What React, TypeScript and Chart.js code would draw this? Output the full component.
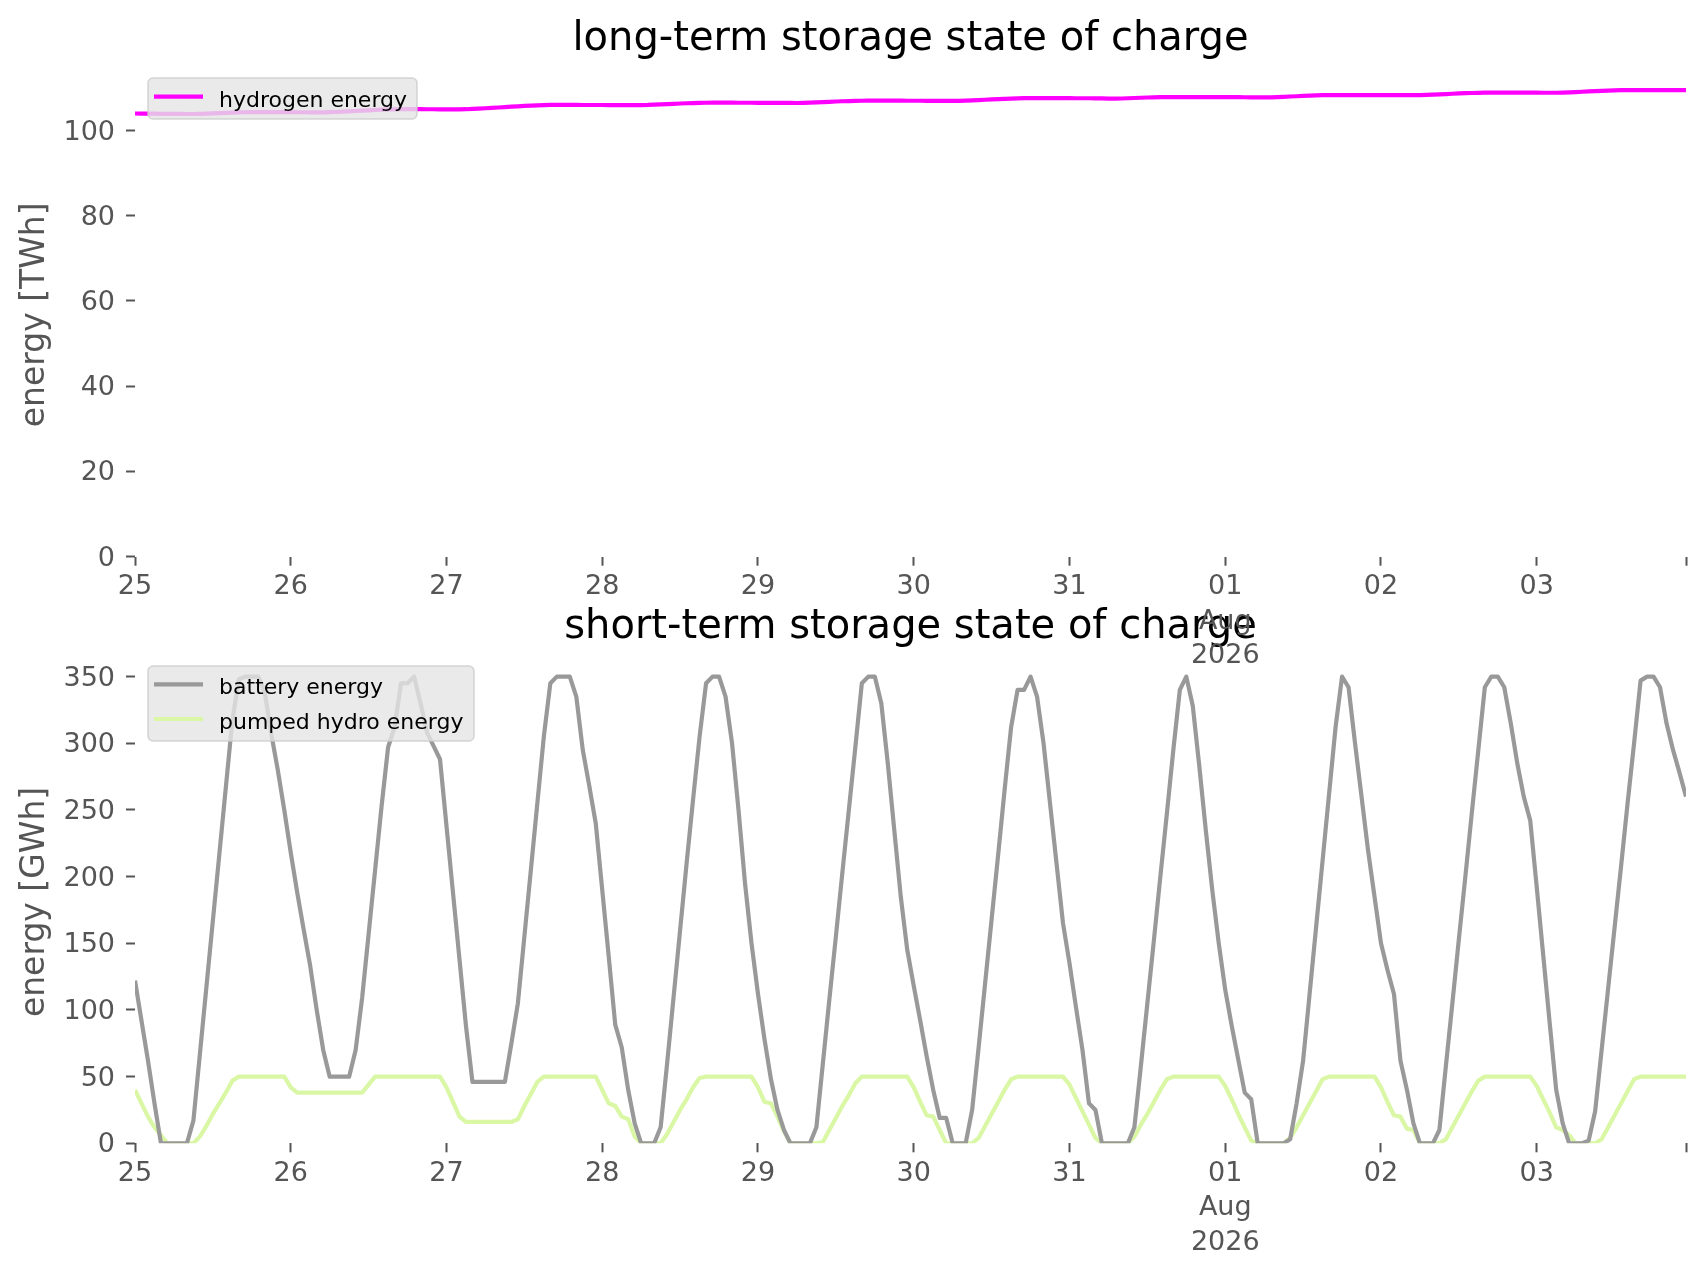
import { useEffect, useRef } from "react";
import { Chart, registerables } from "chart.js";
import type { ChartConfiguration, Plugin } from "chart.js";

Chart.register(...registerables);

// hourly snapshots, 25 Jul 2026 00:00 .. 03 Aug 2026 23:00
const HOURS = Array.from({ length: 240 }, (_, i) => i);

const DAY_TICKS = [0, 24, 48, 72, 96, 120, 144, 168, 192, 216, 239];
const DAY_LABELS: (string | string[])[] = ["25", "26", "27", "28", "29", "30", "31", ["01", "Aug", "2026"], "02", "03", ""];

const TWH_TICKS = [0, 20, 40, 60, 80, 100];
const GWH_TICKS = [0, 50, 100, 150, 200, 250, 300, 350];

// TWh
const HYDROGEN = [
  104.0, 103.99, 103.97, 103.95, 103.93, 103.91, 103.9, 103.89, 103.88, 103.88, 103.9, 103.95, 104.01, 104.08, 104.14, 104.2, 104.25, 104.29, 104.31, 104.31, 104.31, 104.3, 104.3, 104.3,
  104.3, 104.29, 104.29, 104.28, 104.28, 104.28, 104.3, 104.35, 104.42, 104.5, 104.58, 104.66, 104.74, 104.82, 104.89, 104.94, 104.98, 105.0, 105.0, 105.0, 105.0, 104.99, 104.99, 104.98,
  104.98, 104.98, 104.98, 105.0, 105.06, 105.14, 105.23, 105.32, 105.41, 105.5, 105.59, 105.68, 105.77, 105.85, 105.92, 105.97, 106.0, 106.0, 106.0, 106.0, 106.0, 105.99, 105.99, 105.99,
  105.99, 105.98, 105.98, 105.98, 105.97, 105.97, 105.98, 106.0, 106.06, 106.13, 106.2, 106.27, 106.34, 106.4, 106.45, 106.49, 106.52, 106.53, 106.53, 106.53, 106.53, 106.52, 106.52, 106.52,
  106.51, 106.51, 106.5, 106.49, 106.48, 106.47, 106.46, 106.48, 106.53, 106.6, 106.67, 106.74, 106.81, 106.87, 106.92, 106.96, 106.99, 107.0, 107.0, 107.0, 107.0, 107.0, 107.0, 106.99,
  106.99, 106.99, 106.98, 106.98, 106.97, 106.96, 106.96, 106.97, 107.0, 107.06, 107.14, 107.22, 107.3, 107.38, 107.45, 107.51, 107.56, 107.59, 107.6, 107.6, 107.6, 107.6, 107.6, 107.59,
  107.59, 107.58, 107.58, 107.57, 107.55, 107.53, 107.51, 107.5, 107.52, 107.57, 107.63, 107.69, 107.75, 107.8, 107.83, 107.85, 107.86, 107.86, 107.86, 107.86, 107.85, 107.85, 107.84, 107.84,
  107.83, 107.83, 107.82, 107.81, 107.8, 107.79, 107.79, 107.8, 107.84, 107.91, 107.98, 108.05, 108.12, 108.18, 108.24, 108.29, 108.32, 108.33, 108.33, 108.33, 108.33, 108.32, 108.32, 108.32,
  108.31, 108.31, 108.3, 108.3, 108.29, 108.29, 108.3, 108.35, 108.42, 108.49, 108.56, 108.63, 108.7, 108.76, 108.81, 108.85, 108.88, 108.89, 108.89, 108.89, 108.89, 108.88, 108.88, 108.88,
  108.88, 108.87, 108.87, 108.87, 108.9, 108.96, 109.03, 109.1, 109.17, 109.24, 109.31, 109.37, 109.42, 109.46, 109.49, 109.5, 109.5, 109.5, 109.5, 109.5, 109.5, 109.5, 109.5, 109.5,
];

// GWh
const BATTERY = [
  122, 92, 62, 30, 0, 0, 0, 0, 0, 17, 67, 117, 167, 217, 267, 317, 348, 350, 350, 350, 338, 307, 280, 250,
  218, 188, 160, 133, 100, 70, 50, 50, 50, 50, 70, 109, 157, 205, 253, 297, 312, 345, 345, 350, 330, 308, 298, 288,
  238, 188, 138, 88, 46, 46, 46, 46, 46, 46, 75, 105, 155, 205, 255, 305, 345, 350, 350, 350, 335, 295, 268, 240,
  190, 140, 89, 72, 40, 15, 0, 0, 0, 12, 60, 110, 160, 210, 258, 305, 345, 350, 350, 335, 300, 250, 195, 150,
  112, 78, 48, 25, 10, 0, 0, 0, 0, 12, 60, 108, 155, 203, 250, 297, 345, 350, 350, 330, 285, 235, 185, 145,
  118, 92, 65, 40, 19, 19, 0, 0, 0, 25, 72, 120, 168, 216, 265, 312, 340, 340, 350, 335, 300, 255, 210, 165,
  135, 102, 70, 30, 25, 0, 0, 0, 0, 0, 12, 58, 105, 152, 200, 247, 295, 340, 350, 328, 283, 235, 190, 150,
  115, 88, 63, 38, 33, 0, 0, 0, 0, 0, 3, 30, 62, 112, 162, 212, 262, 312, 350, 342, 300, 260, 220, 185,
  150, 130, 112, 62, 40, 15, 0, 0, 0, 10, 58, 105, 153, 200, 248, 295, 342, 350, 350, 342, 315, 285, 260, 242,
  192, 141, 90, 40, 15, 0, 0, 0, 2, 24, 70, 116, 162, 208, 255, 300, 347, 350, 350, 342, 315, 295, 278, 260,
];

// GWh
const PUMPED_HYDRO = [
  40, 30, 20, 12, 6, 0, 0, 0, 0, 0, 5, 13, 22, 30, 38, 47, 50, 50, 50, 50, 50, 50, 50, 50,
  42, 38, 38, 38, 38, 38, 38, 38, 38, 38, 38, 38, 44, 50, 50, 50, 50, 50, 50, 50, 50, 50, 50, 50,
  42, 31, 20, 16, 16, 16, 16, 16, 16, 16, 16, 18, 28, 37, 46, 50, 50, 50, 50, 50, 50, 50, 50, 50,
  40, 30, 28, 20, 18, 5, 0, 0, 0, 0, 7, 16, 25, 33, 42, 49, 50, 50, 50, 50, 50, 50, 50, 50,
  42, 31, 30, 20, 9, 0, 0, 0, 0, 0, 1, 10, 19, 28, 36, 45, 50, 50, 50, 50, 50, 50, 50, 50,
  42, 31, 21, 20, 10, 0, 0, 0, 0, 0, 4, 13, 22, 31, 40, 48, 50, 50, 50, 50, 50, 50, 50, 50,
  44, 34, 24, 14, 4, 0, 0, 0, 0, 0, 5, 14, 22, 31, 40, 48, 50, 50, 50, 50, 50, 50, 50, 50,
  43, 33, 22, 12, 2, 0, 0, 0, 0, 0, 4, 12, 21, 30, 39, 48, 50, 50, 50, 50, 50, 50, 50, 50,
  42, 31, 21, 20, 11, 10, 0, 0, 0, 0, 3, 12, 21, 30, 39, 47, 50, 50, 50, 50, 50, 50, 50, 50,
  43, 33, 23, 12, 10, 6, 0, 0, 0, 0, 3, 12, 21, 30, 39, 48, 50, 50, 50, 50, 50, 50, 50, 50,
];

const FONT = "DejaVu Sans";
const TICK_COLOR = "#555555";

function roundedRect(ctx: CanvasRenderingContext2D, x: number, y: number, w: number, h: number, r: number) {
  ctx.beginPath();
  ctx.moveTo(x + r, y);
  ctx.arcTo(x + w, y, x + w, y + h, r);
  ctx.arcTo(x + w, y + h, x, y + h, r);
  ctx.arcTo(x, y + h, x, y, r);
  ctx.arcTo(x, y, x + w, y, r);
  ctx.closePath();
}

// matplotlib-like title and framed legend inside the axes
const decorations: Plugin = {
  id: "decorations",
  afterDraw(chart, _args, opts: any) {
    const { ctx, chartArea } = chart;
    ctx.save();
    ctx.font = `40px '${FONT}'`;
    ctx.fillStyle = "#000000";
    ctx.textAlign = "center";
    ctx.textBaseline = "alphabetic";
    ctx.fillText(opts.title, (chartArea.left + chartArea.right) / 2, opts.titleBaseline);

    const { x, y, w, h, firstRow, rowGap } = opts.legend;
    roundedRect(ctx, x, y, w, h, 5);
    ctx.fillStyle = "rgba(229, 229, 229, 0.8)";
    ctx.fill();
    ctx.strokeStyle = "rgba(204, 204, 204, 0.8)";
    ctx.lineWidth = 1.5;
    ctx.stroke();

    ctx.font = `22px '${FONT}'`;
    ctx.textAlign = "left";
    chart.data.datasets.forEach((ds, i) => {
      const ly = y + firstRow + i * rowGap;
      ctx.beginPath();
      ctx.moveTo(x + 6, ly);
      ctx.lineTo(x + 55, ly);
      ctx.strokeStyle = ds.borderColor as string;
      ctx.lineWidth = 4.2;
      ctx.stroke();
      ctx.fillStyle = "#000000";
      ctx.fillText(ds.label ?? "", x + 71, ly + 10);
    });
    ctx.restore();
  },
};

interface PanelProps {
  top: number;
  height: number;
  layer: number;
  padTop: number;
  xAxisHeight: number;
  yMax: number;
  yTicks: number[];
  yTitle: string;
  title: string;
  titleBaseline: number;
  legend: { x: number; y: number; w: number; h: number; firstRow: number; rowGap: number };
  series: { label: string; color: string; values: number[] }[];
}

function Panel(props: PanelProps) {
  const canvasRef = useRef<HTMLCanvasElement>(null);

  useEffect(() => {
    if (!canvasRef.current) return;
    const tickFont = { family: FONT, size: 27, lineHeight: 1.28 };
    const tickGrid = {
      drawOnChartArea: false,
      drawTicks: true,
      tickLength: 9,
      tickWidth: 2,
      tickColor: TICK_COLOR,
    };

    const config: ChartConfiguration<"line"> = {
      type: "line",
      data: {
        datasets: props.series.map((s) => ({
          label: s.label,
          data: HOURS.map((x, i) => ({ x, y: s.values[i] })),
          borderColor: s.color,
          backgroundColor: s.color,
          borderWidth: 4.2,
          borderJoinStyle: "round",
          pointRadius: 0,
          fill: false,
          tension: 0,
        })),
      },
      options: {
        animation: false,
        responsive: false,
        devicePixelRatio: 1,
        layout: { padding: { top: props.padTop, right: 20, bottom: 0, left: 0 } },
        plugins: {
          legend: { display: false },
          title: { display: false },
          tooltip: { enabled: false },
          // @ts-ignore custom plugin options
          decorations: { title: props.title, titleBaseline: props.titleBaseline, legend: props.legend },
        },
        scales: {
          x: {
            type: "linear",
            min: 0,
            max: 239,
            afterBuildTicks: (axis) => {
              axis.ticks = DAY_TICKS.map((value) => ({ value }));
            },
            afterFit: (axis) => {
              axis.height = props.xAxisHeight;
            },
            border: { display: false },
            grid: tickGrid,
            ticks: {
              autoSkip: false,
              maxRotation: 0,
              minRotation: 0,
              padding: 4,
              color: TICK_COLOR,
              font: tickFont,
              callback: (value) => {
                const label = DAY_LABELS[DAY_TICKS.indexOf(Number(value))];
                return Array.isArray(label) ? [...label] : label ?? "";
              },
            },
          },
          y: {
            min: 0,
            max: props.yMax,
            afterBuildTicks: (axis) => {
              axis.ticks = props.yTicks.map((value) => ({ value }));
            },
            afterFit: (axis) => {
              axis.width = 135;
            },
            border: { display: false },
            grid: tickGrid,
            title: {
              display: true,
              text: props.yTitle,
              color: TICK_COLOR,
              font: { family: FONT, size: 33, lineHeight: 1.2 },
              padding: { top: 16, bottom: 0 },
            },
            ticks: {
              padding: 11,
              labelOffset: 2,
              color: TICK_COLOR,
              font: tickFont,
              callback: (value) => String(value),
            },
          },
        },
      },
      plugins: [decorations],
    };

    const chart = new Chart(canvasRef.current, config);
    return () => chart.destroy();
  }, [props]);

  return (
    <canvas
      ref={canvasRef}
      width={1706}
      height={props.height}
      style={{ position: "absolute", left: 0, top: props.top, width: 1706, height: props.height, zIndex: props.layer }}
    />
  );
}

const LONG_TERM: PanelProps = {
  top: 0,
  height: 680,
  layer: 2,
  padTop: 73,
  xAxisHeight: 680 - 556.7,
  yMax: 113.5,
  yTicks: TWH_TICKS,
  yTitle: "energy [TWh]",
  title: "long-term storage state of charge",
  titleBaseline: 50,
  legend: { x: 148, y: 78, w: 269, h: 41, firstRow: 18.7, rowGap: 34.7 },
  series: [{ label: "hydrogen energy", color: "#ff00ff", values: HYDROGEN }],
};

const SHORT_TERM: PanelProps = {
  top: 590,
  height: 687,
  layer: 1,
  padTop: 70.6,
  xAxisHeight: 687 - 553.3,
  yMax: 362,
  yTicks: GWH_TICKS,
  yTitle: "energy [GWh]",
  title: "short-term storage state of charge",
  titleBaseline: 48,
  legend: { x: 148, y: 76, w: 326, h: 75, firstRow: 18.3, rowGap: 34.7 },
  series: [
    { label: "battery energy", color: "#999999", values: BATTERY },
    { label: "pumped hydro energy", color: "#daf7a6", values: PUMPED_HYDRO },
  ],
};

export default function App() {
  return (
    <div style={{ position: "absolute", left: 0, top: 0, width: 1706, height: 1277, background: "#ffffff" }}>
      <Panel {...SHORT_TERM} />
      <Panel {...LONG_TERM} />
    </div>
  );
}
